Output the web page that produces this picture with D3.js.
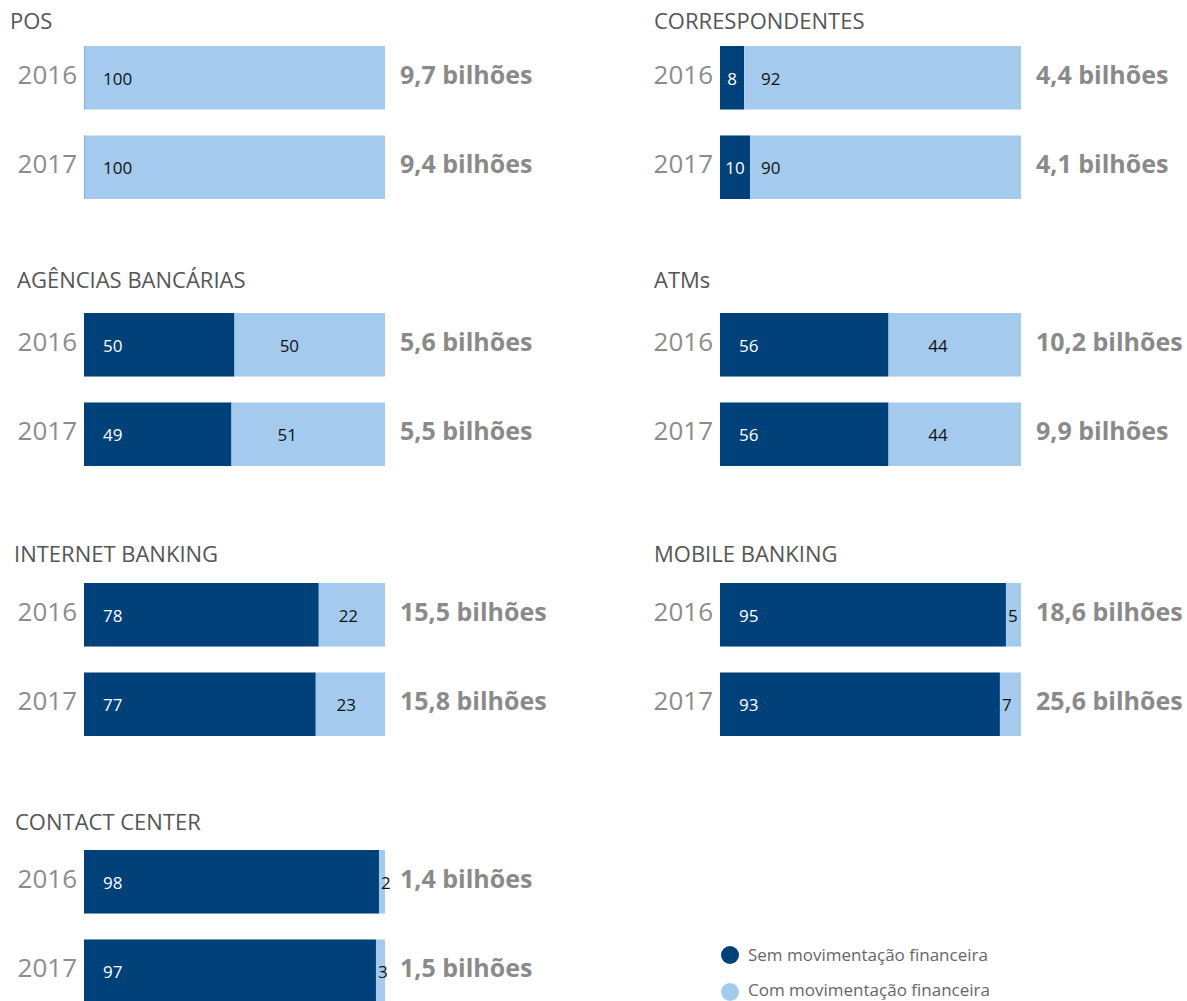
<!DOCTYPE html>
<html>
<head>
<meta charset="utf-8">
<script src="https://cdn.jsdelivr.net/npm/d3@7"></script>
<style>
  html, body { margin: 0; padding: 0; background: #ffffff; }
  svg { display: block; font-family: "Open Sans", "Noto Sans", sans-serif; }
</style>
</head>
<body>
<svg id="chart" width="1187" height="1001"></svg>
<script>
// ---- data ----
const categories = ["POS", "CORRESPONDENTES", "AGÊNCIAS BANCÁRIAS", "ATMs", "INTERNET BANKING", "MOBILE BANKING", "CONTACT CENTER"];
const years = ["2016", "2017"];
const semMov2016 = [0, 8, 50, 56, 78, 95, 98];
const semMov2017 = [0, 10, 49, 56, 77, 93, 97];
const comMov2016 = [100, 92, 50, 44, 22, 5, 2];
const comMov2017 = [100, 90, 51, 44, 23, 7, 3];
const totals2016 = ["9,7 bilhões", "4,4 bilhões", "5,6 bilhões", "10,2 bilhões", "15,5 bilhões", "18,6 bilhões", "1,4 bilhões"];
const totals2017 = ["9,4 bilhões", "4,1 bilhões", "5,5 bilhões", "9,9 bilhões", "15,8 bilhões", "25,6 bilhões", "1,5 bilhões"];
const seriesNames = ["Sem movimentação financeira", "Com movimentação financeira"];

// ---- layout ----
const colBarX = [84, 720];
const rowBarTop = [46, 313, 583, 850];
const rowTitleY = [29, 288, 562, 830];
const titleX = [10, 654, 17, 654, 14, 654, 15];
const barWidth = 301;
const colors = { sem: "#00417a", com: "#a4cbee" };

const svg = d3.select("#chart");
const x = d3.scaleLinear().domain([0, 100]).range([0, barWidth]);
const y = d3.scaleBand().domain(years).range([0, 153]).paddingInner(0.29);
const color = d3.scaleOrdinal().domain(seriesNames).range([colors.sem, colors.com]);

categories.forEach((cat, i) => {
  const col = i % 2, row = Math.floor(i / 2);
  const bx = colBarX[col];
  const g = svg.append("g").attr("transform", `translate(${bx},${rowBarTop[row]})`);

  svg.append("text")
    .attr("x", titleX[i]).attr("y", rowTitleY[row])
    .attr("font-size", 22).attr("fill", "#555")
    .text(cat);

  const rows = years.map((yr, k) => ({
    year: yr,
    sem: k === 0 ? semMov2016[i] : semMov2017[i],
    com: k === 0 ? comMov2016[i] : comMov2017[i],
    total: k === 0 ? totals2016[i] : totals2017[i]
  }));

  rows.forEach(d => {
    const top = y(d.year), h = y.bandwidth(), cy = top + h / 2;
    const ds = x(d.sem), lw = x(d.com);

    // bars
    g.append("rect").attr("x", x(0)).attr("y", top).attr("width", ds).attr("height", h)
      .attr("fill", color(seriesNames[0]));
    g.append("rect").attr("x", ds).attr("y", top).attr("width", lw).attr("height", h)
      .attr("fill", color(seriesNames[1]));
    if (d.sem === 0) {
      g.append("line").attr("x1", 0.5).attr("x2", 0.5).attr("y1", top).attr("y2", top + h)
        .attr("stroke", "#7fb1e0").attr("stroke-width", 1);
    }

    // year label
    g.append("text").attr("x", -7).attr("y", cy + 6)
      .attr("text-anchor", "end").attr("font-size", 26)
      .attr("fill", "#8c8c8c").text(d.year);

    // dark label
    if (d.sem > 0) {
      const big = ds >= 60;
      g.append("text")
        .attr("x", big ? 19 : ds / 2).attr("y", cy + 7)
        .attr("text-anchor", big ? "start" : "middle")
        .attr("font-size", 17).attr("fill", "#ffffff").text(d.sem);
    }
    // light label
    let lx;
    if (lw < 30) lx = ds + 2;
    else if (d.sem === 0) lx = 19;
    else if (ds < 60) lx = 41;
    else lx = ds + 0.3 * lw;
    g.append("text").attr("x", lx).attr("y", cy + 7)
      .attr("font-size", 17).attr("fill", "#111").text(d.com);

    // total label
    g.append("text").attr("x", barWidth + 15).attr("y", cy + 6)
      .attr("font-size", 25).attr("font-weight", 700).attr("fill", "#8a8a8a")
      .text(d.total);
  });
});

// legend
const legend = svg.append("g").attr("transform", "translate(730,955)");
seriesNames.forEach((name, k) => {
  const lg = legend.append("g").attr("transform", `translate(0,${k * 37})`);
  lg.append("circle").attr("r", 9).attr("fill", color(name));
  lg.append("text").attr("x", 18).attr("y", k === 0 ? 6 : 4).attr("font-size", 17).attr("fill", "#666").text(name);
});
</script>
</body>
</html>
